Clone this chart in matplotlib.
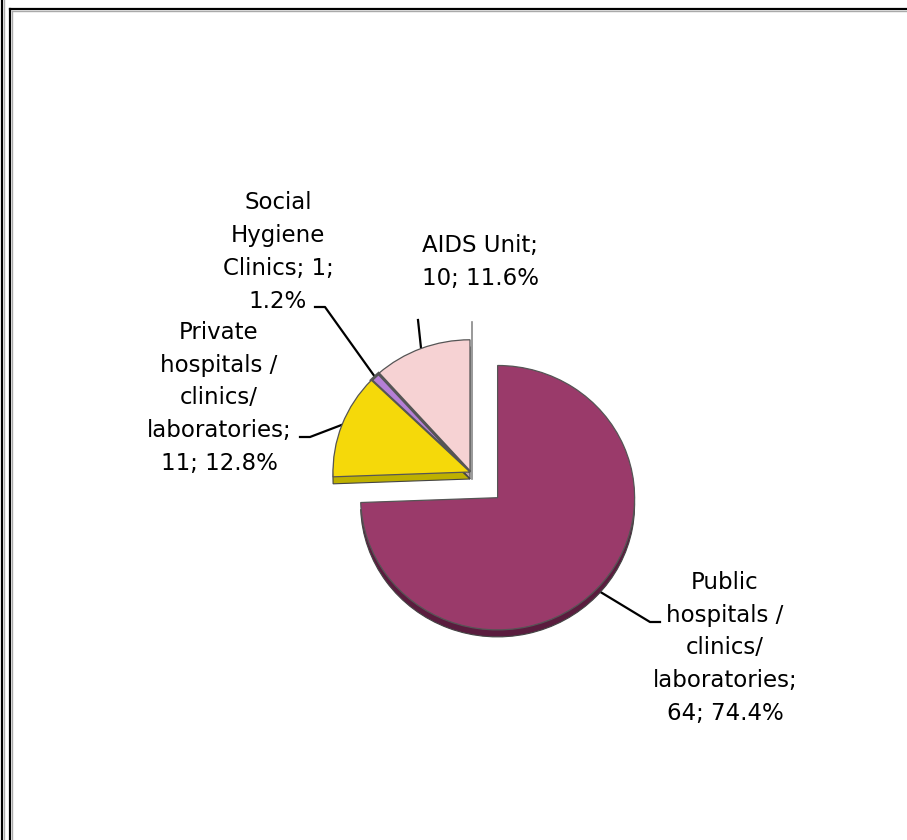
import numpy as np
import matplotlib.pyplot as plt
from matplotlib.lines import Line2D

# data
categories = ["AIDS Unit", "Social\nHygiene\nClinics", "Private\nhospitals /\nclinics/\nlaboratories",
              "Public\nhospitals /\nclinics/\nlaboratories"]
counts = [10, 1, 11, 64]
percents = [11.6, 1.2, 12.8, 74.4]

# styling
top_colors = ["#F6D2D3", "#B57FD6", "#F5D90A", "#9A3A6A"]
side_colors = ["#B9A3A4", "#5F5F66", "#BDB000", "#5A1C3E"]

W, H = 907, 840
CX, CY = 470, H - 472      # pie centre in pixel coords (y up)
R = 137
DEPTH = 7
TILT = 0.965               # slight vertical squash for the 3-D look
explode = [0, 0, 0, 0.28 * R]   # pie() takes explode in data units

plt.rcParams['font.family'] = ['DejaVu Sans']

fig = plt.figure(figsize=(W / 100, H / 100), dpi=100)
ax = fig.add_axes([0, 0, 1, 1])
ax.set_xlim(0, W)
ax.set_ylim(0, H)
ax.axis('off')

# pie lives in its own axes, y scaled by TILT around the centre
axp = fig.add_axes([0, 0, 1, 1])
axp.patch.set_visible(False)

# side walls: same pie drawn lower and darker
axp.pie(counts, colors=side_colors, explode=explode, startangle=90, counterclock=True,
        radius=R, center=(CX, CY - DEPTH / TILT), frame=True,
        wedgeprops=dict(edgecolor="#444444", linewidth=0.8))
# top faces
wedges, _ = axp.pie(counts, colors=top_colors, explode=explode, startangle=90, counterclock=True,
                    radius=R, center=(CX, CY), frame=True,
                    wedgeprops=dict(edgecolor="#555555", linewidth=0.9))
wedges[1].set_linewidth(2.2)

axp.set_aspect('auto')
axp.set_xlim(0, W)
axp.set_ylim(CY - CY / TILT, CY + (H - CY) / TILT)
axp.axis('off')

def to_px(pt):
    return ax.transData.inverted().transform(axp.transData.transform(pt))

# thin wall of the first slice seen edge-on at 12 o'clock
top = to_px((CX, CY + R))
ax.plot([CX + 2, CX + 2], [CY - DEPTH, top[1] + 18], color="#888888", lw=1.2)

# label text positions (centres) and leader elbows, pixel coords from the top
label_pos = [(480, 262), (278, 252), (219, 398), (725, 648)]
leader_start = [(418, 320), (315, 307), (300, 437), (660, 622)]
leader_elbow = [None, (325, 307), (310, 437), (650, 622)]

for i, w in enumerate(wedges):
    if i == 1:
        txt = f"Social\nHygiene\nClinics; {counts[i]};\n{percents[i]}%"
    else:
        txt = f"{categories[i]};\n{counts[i]}; {percents[i]}%"
    lx, ly = label_pos[i]
    ax.text(lx, H - ly, txt, ha='center', va='center', fontsize=16.5, linespacing=1.55,
            multialignment='center', color='black')

    # anchor on the slice arc at the mid angle
    mid = np.deg2rad((w.theta1 + w.theta2) / 2)
    cx, cy = w.center
    anchor = to_px((cx + R * np.cos(mid), cy + R * np.sin(mid)))
    pts = [leader_start[i]]
    if leader_elbow[i] is not None:
        pts.append(leader_elbow[i])
    xs = [p[0] for p in pts] + [anchor[0]]
    ys = [H - p[1] for p in pts] + [anchor[1]]
    ax.plot(xs, ys, color='black', lw=1.6)

# page border lines
def border(x0, y0, x1, y1, color='black', lw=1.6):
    ax.add_line(Line2D([x0, x1], [H - y0, H - y1], color=color, lw=lw))

border(2, 0, 2, H)
border(10, 9, 10, H)
border(10, 9, W, 9)
border(4, 0, 4, H, '#aaaaaa', 1)
border(12, 11, 12, H, '#aaaaaa', 1)
border(12, 11, W, 11, '#aaaaaa', 1)

fig.savefig("out.png", dpi=100)
